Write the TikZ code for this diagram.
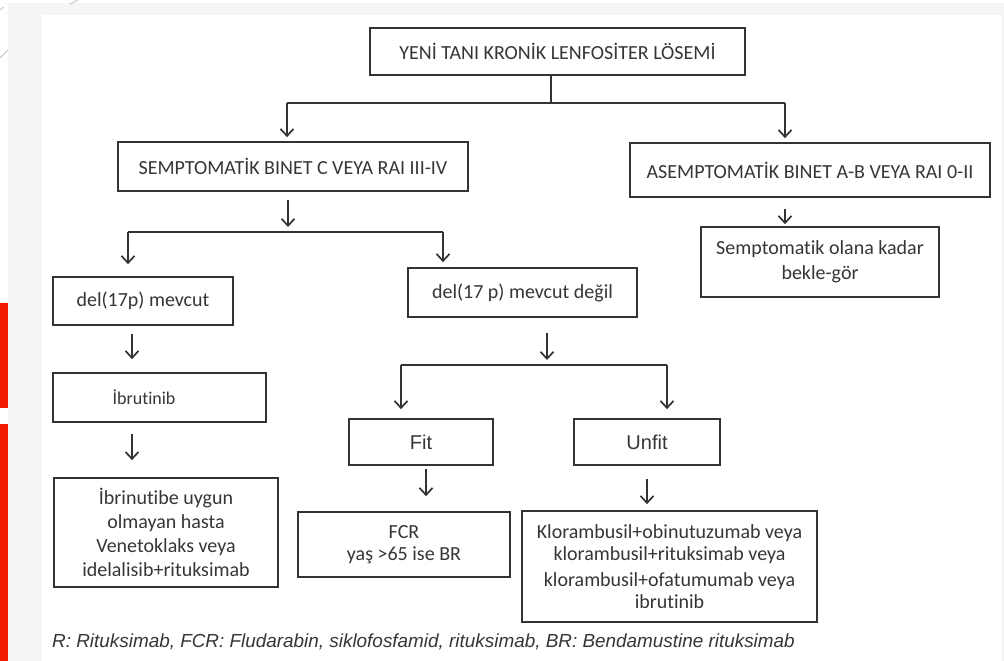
\documentclass[tikz,border=0pt]{standalone}
\usepackage{fontspec}
\setmainfont{Carlito}[Ligatures=NoCommon]
\newfontfamily\arialfont{Liberation Sans}[Ligatures=NoCommon]
\usetikzlibrary{arrows.meta}
\definecolor{linec}{HTML}{333333}
\definecolor{textc}{HTML}{363636}
\definecolor{panelgray}{HTML}{F5F5F5}
\definecolor{slidered}{HTML}{F41A00}
\tikzset{
  box/.style={draw=linec, line width=1.7pt, fill=white, text=textc, inner sep=2pt, align=center, font=\fontsize{20}{23}\selectfont},
  arr/.style={draw=linec, line width=1.7pt, -{Straight Barb[length=7pt,width=13pt,line width=1.7pt]}},
  conn/.style={draw=linec, line width=1.7pt},
}
\begin{document}
\begin{tikzpicture}[x=1pt,y=-1pt]
% background
\fill[white] (0,0) rectangle (1004,661);
\useasboundingbox (0,0) rectangle (1004,661);
\fill[panelgray] (8,3) rectangle (1004,661);
\fill[white] (42,15) rectangle (1002,661);
\fill[slidered] (0,303) rectangle (8,408);
\fill[slidered] (0,424) rectangle (8,661);
\draw[gray!50, line width=0.8pt] (0,58) -- (8,50);
\draw[gray!50, line width=0.8pt] (0,10) -- (4,7);
\draw[gray!50, line width=0.8pt] (70,4) -- (78,0);

% nodes
\node[box, minimum width=375pt, minimum height=47pt] (top) at (557.5,51.5) {YENİ TANI KRONİK LENFOSİTER LÖSEMİ};
\node[box, minimum width=350pt, minimum height=49pt] (semp) at (293,166.5) {SEMPTOMATİK BINET C VEYA RAI III-IV};
\node[box, minimum width=360pt, minimum height=54pt] (asemp) at (810,170) {ASEMPTOMATİK BINET A-B VEYA RAI 0-II};
\node[box, minimum width=238pt, minimum height=70pt, font=\fontsize{20}{25}\selectfont] (bekle) at (820,262) {Semptomatik olana kadar\\bekle-gör};
\node[box, minimum width=180pt, minimum height=48pt] (del1) at (143,301) {del(17p) mevcut};
\node[box, minimum width=229pt, minimum height=49pt] (del2) at (522.5,292.5) {del(17 p) mevcut değil};
\node[box, minimum width=213pt, minimum height=49pt, font=\fontsize{18}{22}\selectfont] (ibr) at (159.5,397.5) {\hspace*{-31pt}İbrutinib};
\node[box, minimum width=224pt, minimum height=109pt, font=\fontsize{20}{24}\selectfont] (ibrin) at (166,532.5) {İbrinutibe uygun\\olmayan hasta\\Venetoklaks veya\\idelalisib+rituksimab};
\node[box, minimum width=144pt, minimum height=46pt, font=\arialfont\fontsize{20}{22}\selectfont] (fit) at (421,442) {Fit};
\node[box, minimum width=146pt, minimum height=46pt, font=\arialfont\fontsize{20}{22}\selectfont] (unfit) at (647,442) {Unfit};
\node[box, minimum width=212pt, minimum height=65pt, font=\fontsize{20}{22}\selectfont] (fcr) at (404,544.5) {FCR\\yaş >65 ise BR};
\node[box, minimum width=295pt, minimum height=111pt, font=\fontsize{20}{22}\selectfont] (klor) at (669.5,566.5) {Klorambusil+obinutuzumab veya\\klorambusil+rituksimab veya\\[4pt]klorambusil+ofatumumab veya\\ibrutinib};

\node[anchor=west, text=textc, font=\arialfont\itshape\fontsize{18.9}{22}\selectfont, inner sep=0pt] (note) at (52,642) {R: Rituksimab, FCR: Fludarabin, siklofosfamid, rituksimab, BR: Bendamustine rituksimab};

% junction coordinates
\coordinate (j1) at (551,103);
\coordinate (j1l) at (287,103);
\coordinate (j1r) at (785,103);
\coordinate (j2) at (288,232);
\coordinate (j2l) at (128,232);
\coordinate (j2r) at (443,232);
\coordinate (j3) at (547,365);
\coordinate (j3l) at (401,365);
\coordinate (j3r) at (667,365);
\coordinate (colL) at (132,0);
\coordinate (colF) at (426,0);
\coordinate (colU) at (647,0);
\coordinate (colA) at (785,0);

% connectors
\draw[conn] (top.south -| j1) -- (j1);
\draw[conn] (j1l) -- (j1r);
\draw[arr, shorten >=4pt] (j1l) -- (semp.north -| j1l);
\draw[arr, shorten >=4pt] (j1r) -- (asemp.north -| j1r);

\draw[arr, shorten <=8pt, shorten >=5pt] (semp.south -| j2) -- (j2);
\draw[conn] (j2l) -- (j2r);
\draw[arr, shorten >=12pt] (j2l) -- (del1.north -| j2l);
\draw[arr, shorten >=5pt] (j2r) -- (del2.north -| j2r);

\draw[arr, shorten <=8pt, shorten >=13pt] (del1.south -| colL) -- (ibr.north -| colL);
\draw[arr, shorten <=11pt, shorten >=17pt] (ibr.south -| colL) -- (ibrin.north -| colL);

\draw[arr, shorten <=15pt, shorten >=5pt] (del2.south -| j3) -- (j3);
\draw[conn] (j3l) -- (j3r);
\draw[arr, shorten >=9pt] (j3l) -- (fit.north -| j3l);
\draw[arr, shorten >=9pt] (j3r) -- (unfit.north -| j3r);

\draw[arr, shorten <=3pt, shorten >=15pt] (fit.south -| colF) -- (fcr.north -| colF);
\draw[arr, shorten <=13pt, shorten >=6pt] (unfit.south -| colU) -- (klor.north -| colU);
\draw[arr, shorten <=11pt, shorten >=2pt] (asemp.south -| colA) -- (bekle.north -| colA);
\end{tikzpicture}
\end{document}
